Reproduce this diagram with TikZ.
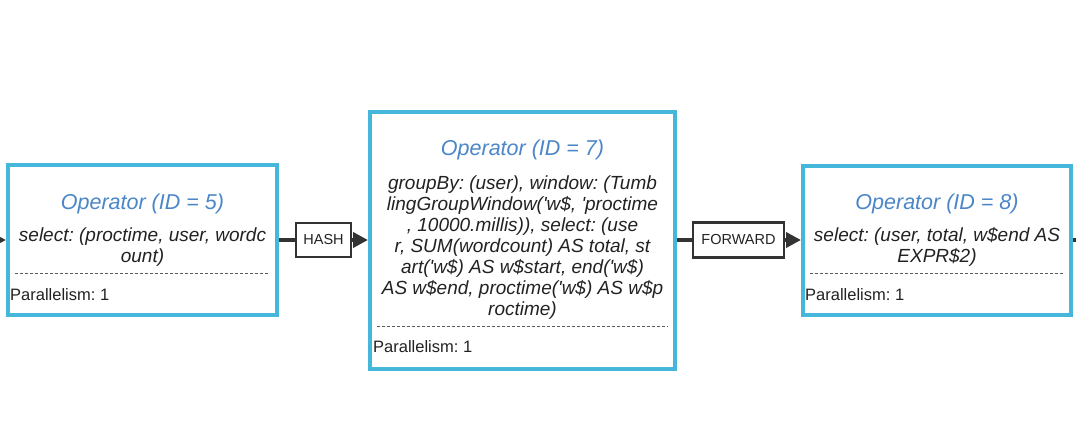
\documentclass[tikz,border=0pt]{standalone}
\usepackage{fontspec}
\setmainfont{Liberation Sans}[Ligatures=TeXOff]
\usetikzlibrary{arrows.meta}
\frenchspacing
\definecolor{opborder}{RGB}{68,183,218}
\definecolor{optitle}{RGB}{74,134,200}
\definecolor{optext}{RGB}{34,34,34}
\definecolor{conncol}{RGB}{51,51,51}
\definecolor{sepcol}{RGB}{90,90,90}
\tikzset{
  opbox/.style={draw=opborder, line width=4pt, fill=white, rectangle, inner sep=0pt},
  optitlestyle/.style={text=optitle, font=\fontsize{21.5}{24}\selectfont\itshape\frenchspacing, inner sep=0pt, anchor=base},
  opbody/.style={text=optext, font=\fontsize{19}{21}\selectfont\itshape\frenchspacing, align=center, inner sep=0pt, anchor=base},
  oppar/.style={text=optext, font=\fontsize{16.5}{19}\selectfont\frenchspacing, inner sep=0pt, anchor=base west},
  sepline/.style={draw=sepcol, line width=0.8pt, dash pattern=on 3pt off 2pt},
  partbox/.style={draw=conncol, line width=2.3pt, fill=white, rectangle, inner sep=0pt, text=optext, font=\fontsize{14.5}{16}\selectfont},
  conn/.style={draw=conncol, line width=3.7pt},
  connarrow/.style={conn, -{Triangle[length=15pt,width=15pt]}}
}
\begin{document}
\begin{tikzpicture}[x=1pt,y=-1pt]
\useasboundingbox (0,0) rectangle (1076,429);
\clip (0,0) rectangle (1076,429);
% operator boxes
\node[opbox, minimum width=269pt, minimum height=150pt] (op5) at (142.5,240) {};
\node[opbox, minimum width=305pt, minimum height=257pt] (op7) at (522.5,240) {};
\node[opbox, minimum width=268pt, minimum height=149pt] (op8) at (937,240) {};
% partitioner boxes
\node[partbox, minimum width=55pt, minimum height=34pt] (hash) at (323.5,240) {HASH};
\node[partbox, minimum width=91pt, minimum height=35pt] (fwd) at (738.5,240) {FORWARD};
% free ends
\coordinate (inL) at (-40,240);
\coordinate (outR) at (1110,240);
% connectors
\draw[connarrow] (inL) -- (op5.west);
\draw[conn] (op5.east) -- (hash.west);
\draw[connarrow] (hash.east) -- (op7.west);
\draw[conn] (op7.east) -- (fwd.west);
\draw[connarrow] (fwd.east) -- (op8.west);
\draw[conn] (op8.east) -- (outR);
% operator 5 contents
\node[optitlestyle] (t5) at (142.5,209) {Operator (ID = 5)};
\node[opbody] (b5) at (142.5,262.5) {select: (proctime, user, wordc\\ount)};
\draw[sepline] (15,273) -- (270,273);
\node[oppar] (p5) at (10,300) {Parallelism: 1};
% operator 7 contents
\node[optitlestyle] (t7) at (522.5,155.5) {Operator (ID = 7)};
\node[opbody] (b7) at (522.5,315.5) {groupBy: (user), window: (Tumb\\lingGroupWindow('w\$, 'proctime\\, 10000.millis)), select: (use\\r, SUM(wordcount) AS total, st\\art('w\$) AS w\$start, end('w\$)\\AS w\$end, proctime('w\$) AS w\$p\\roctime)};
\draw[sepline] (377,326) -- (668,326);
\node[oppar] (p7) at (373,352) {Parallelism: 1};
% operator 8 contents
\node[optitlestyle] (t8) at (937,209) {Operator (ID = 8)};
\node[opbody] (b8) at (937,262.5) {select: (user, total, w\$end AS\\EXPR\$2)};
\draw[sepline] (810,273) -- (1065,273);
\node[oppar] (p8) at (805,300) {Parallelism: 1};
\end{tikzpicture}
\end{document}
